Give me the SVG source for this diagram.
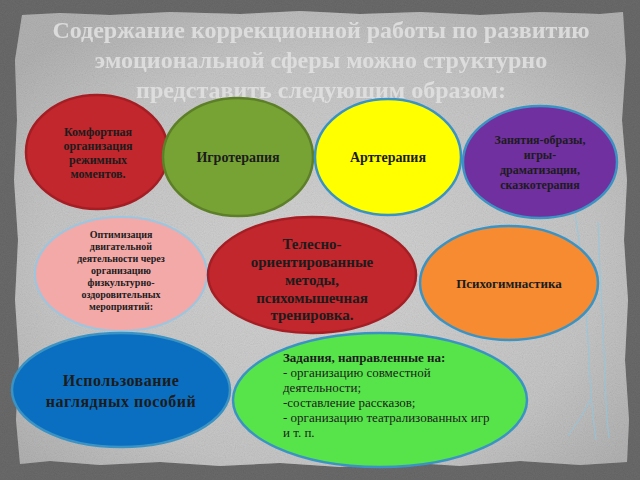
<svg xmlns="http://www.w3.org/2000/svg" width="640" height="480" viewBox="0 0 640 480">
<defs>
<radialGradient id="paper" cx="50%" cy="55%" r="65%">
<stop offset="0" stop-color="#d4d4d4"/>
<stop offset="0.7" stop-color="#c6c6c6"/>
<stop offset="1" stop-color="#b2b2b2"/>
</radialGradient>
<filter id="grain" x="0" y="0" width="100%" height="100%">
<feTurbulence type="fractalNoise" baseFrequency="0.9" numOctaves="2" seed="3" result="n"/>
<feColorMatrix type="saturate" values="0" in="n" result="g"/>
<feComponentTransfer in="g" result="a"><feFuncA type="linear" slope="0.3"/></feComponentTransfer>
<feComposite in="a" in2="SourceGraphic" operator="in" result="t"/>
<feBlend in="SourceGraphic" in2="t" mode="multiply"/>
</filter>
<style>
.title{font-family:"Liberation Serif","Times New Roman",serif;font-weight:bold;font-size:24px;fill:#e2e2e2;text-anchor:middle;opacity:0.88}
.lbl{font-family:"Liberation Serif","Times New Roman",serif;font-weight:bold;fill:#1c1c1c;text-anchor:middle}
.txt{font-family:"Liberation Serif","Times New Roman",serif;fill:#1c1c1c;font-size:13px}
.blueS{stroke:#3b93c4;stroke-width:2.5}
.redS{stroke:#a51e24;stroke-width:2.5}
.scratch{fill:none;stroke:#8cc9e3;stroke-width:1;opacity:0.8}
</style>
</defs>

<g id="background">
<rect width="640" height="480" fill="#6a6a6a" filter="url(#grain)"/>
<path d="M22,15 L60,13 L110,15 L170,12 L240,14 L300,11 L360,14 L420,12 L480,15 L540,12 L600,14 L623,12 L626,60 L622,120 L627,180 L624,240 L628,300 L625,360 L629,420 L627,462 L580,465 L520,461 L460,466 L400,462 L340,467 L280,463 L220,466 L160,462 L100,465 L50,461 L20,464 L16,420 L19,360 L15,300 L18,240 L14,180 L17,120 L15,60 Z" fill="url(#paper)" filter="url(#grain)"/>
<path class="scratch" d="M575,214 C583,260 588,330 590,380 C592,410 594,425 596,440"/>
<path class="scratch" d="M598,222 C600,280 604,340 606,400 C607,420 608,430 609,438"/>
<path class="scratch" d="M590,400 C582,418 574,426 568,436"/>
</g>

<g id="title">
<text class="title" x="321" y="38">Содержание коррекционной работы по развитию</text>
<text class="title" x="321" y="68">эмоциональной сферы можно структурно</text>
<text class="title" x="321" y="98">представить следующим образом:</text>
</g>

<g id="connectors"/>

<g id="node-komfort">
<ellipse cx="97" cy="152" rx="71" ry="57" fill="#c1272d" class="redS"/>
<text class="lbl" font-size="12" x="98"><tspan x="98" y="136">Комфортная</tspan><tspan x="98" y="150">организация</tspan><tspan x="98" y="164">режимных</tspan><tspan x="98" y="178">моментов.</tspan></text>
</g>

<g id="node-igro">
<ellipse cx="238" cy="157" rx="75" ry="59" fill="#77a335" stroke="#5c7f28" stroke-width="2.5"/>
<text class="lbl" font-size="14" x="238" y="162">Игротерапия</text>
</g>

<g id="node-art">
<ellipse cx="388" cy="157" rx="73" ry="58" fill="#ffff00" class="blueS"/>
<text class="lbl" font-size="14" x="388" y="162">Арттерапия</text>
</g>

<g id="node-zanyatiya">
<ellipse cx="540" cy="162" rx="77" ry="56" fill="#7030a0" class="blueS"/>
<text class="lbl" font-size="12" x="540"><tspan x="540" y="144">Занятия-образы,</tspan><tspan x="540" y="159">игры-</tspan><tspan x="540" y="174">драматизации,</tspan><tspan x="540" y="189">сказкотерапия</tspan></text>
</g>

<g id="node-optim">
<ellipse cx="121" cy="274" rx="86" ry="57" fill="#f2a9a8" stroke="#9cc6df" stroke-width="2"/>
<text class="lbl" font-size="10" x="121"><tspan x="121" y="238">Оптимизация</tspan><tspan x="121" y="250">двигательной</tspan><tspan x="121" y="262">деятельности через</tspan><tspan x="121" y="274">организацию</tspan><tspan x="121" y="286">физкультурно-</tspan><tspan x="121" y="298">оздоровительных</tspan><tspan x="121" y="310">мероприятий:</tspan></text>
</g>

<g id="node-teleso">
<ellipse cx="312" cy="275" rx="104" ry="58" fill="#c1272d" class="redS"/>
<text class="lbl" font-size="15" x="312"><tspan x="312" y="249">Телесно-</tspan><tspan x="312" y="267">ориентированные</tspan><tspan x="312" y="285">методы,</tspan><tspan x="312" y="303">психомышечная</tspan><tspan x="312" y="320">тренировка.</tspan></text>
</g>

<g id="node-psycho">
<ellipse cx="509" cy="283" rx="89" ry="57" fill="#f68b31" class="blueS"/>
<text class="lbl" font-size="13" x="509" y="288">Психогимнастика</text>
</g>

<g id="node-nagl">
<ellipse cx="121" cy="390" rx="109" ry="57" fill="#0a6fc0" class="blueS"/>
<text class="lbl" font-size="16" fill="#16243a" letter-spacing="0.5" x="121"><tspan x="121" y="386">Использование</tspan><tspan x="121" y="407">наглядных пособий</tspan></text>
</g>

<g id="node-zadaniya">
<ellipse cx="380" cy="400" rx="147" ry="67" fill="#57e44a" class="blueS"/>
<text class="txt"><tspan x="283" y="362" font-weight="bold">Задания, направленные на:</tspan><tspan x="283" y="377">- организацию совместной</tspan><tspan x="283" y="392">деятельности;</tspan><tspan x="283" y="407">-составление рассказов;</tspan><tspan x="283" y="422">- организацию театрализованных игр</tspan><tspan x="283" y="437">и т. п.</tspan></text>
</g>
</svg>
